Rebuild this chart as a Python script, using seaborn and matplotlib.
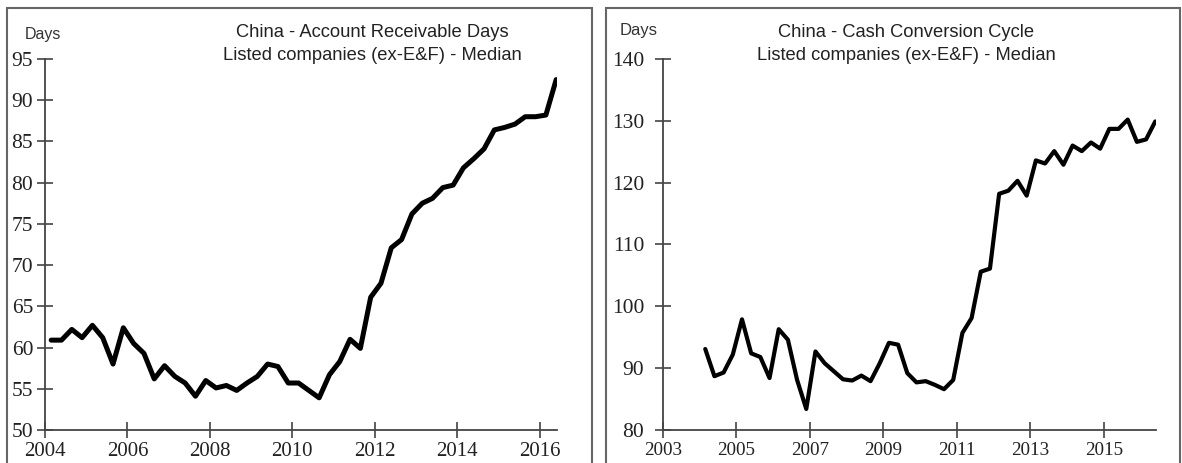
import numpy as np
import pandas as pd
import seaborn as sns
import matplotlib.pyplot as plt
from matplotlib.patches import Rectangle

# quarterly medians, 2004Q1 - 2016Q2
quarters = 2004.15 + 0.25 * np.arange(50)

ar_days = [60.9, 60.9, 62.2, 61.2, 62.7, 61.2, 58.0, 62.4, 60.5, 59.3,
           56.2, 57.8, 56.5, 55.7, 54.1, 56.0, 55.1, 55.4, 54.8, 55.7,
           56.5, 58.0, 57.7, 55.7, 55.7, 54.8, 53.9, 56.7, 58.3, 61.0,
           59.9, 66.1, 67.8, 72.1, 73.1, 76.2, 77.5, 78.1, 79.4, 79.7,
           81.8, 82.9, 84.1, 86.4, 86.7, 87.1, 88.0, 88.0, 88.2, 92.5]

ccc_days = [93.1, 88.7, 89.3, 92.2, 97.9, 92.4, 91.8, 88.4, 96.3, 94.6,
            88.1, 83.4, 92.7, 90.8, 89.5, 88.2, 88.0, 88.8, 87.9, 90.8,
            94.1, 93.8, 89.2, 87.7, 87.9, 87.3, 86.6, 88.1, 95.7, 98.1,
            105.6, 106.1, 118.2, 118.7, 120.3, 117.9, 123.6, 123.1, 125.1, 122.9,
            126.0, 125.1, 126.5, 125.5, 128.7, 128.7, 130.2, 126.6, 127.0, 129.9]

left_ticks_x = [2004, 2006, 2008, 2010, 2012, 2014, 2016]
left_ticks_y = [50, 55, 60, 65, 70, 75, 80, 85, 90, 95]
right_ticks_x = [2003, 2005, 2007, 2009, 2011, 2013, 2015]
right_ticks_y = [80, 90, 100, 110, 120, 130, 140]

df = pd.DataFrame({'date': quarters, 'ar': ar_days, 'ccc': ccc_days})

sns.set_theme(style="white")
plt.rcParams['font.family'] = ['Liberation Serif', 'DejaVu Serif']

W, H = 1182, 463
fig = plt.figure(figsize=(W / 100, H / 100), dpi=100)

# panel frames
for x0, x1 in [(7, 592), (606, 1180)]:
    fig.patches.append(Rectangle((x0 / W, -0.02), (x1 - x0) / W, 1 - 8 / H + 0.02,
                                 transform=fig.transFigure, fill=False,
                                 edgecolor='#666666', linewidth=1.5))

ax1 = fig.add_axes([45 / W, 1 - 430 / H, (557 - 45) / W, (430 - 59) / H])
ax2 = fig.add_axes([663 / W, 1 - 430 / H, (1156 - 663) / W, (430 - 59) / H])

sns.lineplot(data=df, x='date', y='ar', ax=ax1, color='black', linewidth=3.6)
sns.lineplot(data=df, x='date', y='ccc', ax=ax2, color='black', linewidth=3.0)

ax1.set_xlim(2004, 2016.42)
ax1.set_ylim(50, 95)
ax1.set_xticks(left_ticks_x)
ax1.set_yticks(left_ticks_y)
ax2.set_xlim(2003, 2016.42)
ax2.set_ylim(80, 140)
ax2.set_xticks(right_ticks_x)
ax2.set_yticks(right_ticks_y)

for ax, ysize, xsize, ypad in [(ax1, 15.5, 15, 3), (ax2, 15.5, 13.8, 8)]:
    ax.set_xlabel('')
    ax.set_ylabel('')
    ax.patch.set_alpha(0)
    for s in ['top', 'right']:
        ax.spines[s].set_visible(False)
    for s in ['left', 'bottom']:
        ax.spines[s].set_color('#444444')
        ax.spines[s].set_linewidth(1.3)
    ax.tick_params(axis='both', direction='inout', length=11, width=1.2,
                   color='#444444', colors='#222222', left=True, bottom=True)
    ax.tick_params(axis='y', labelsize=ysize, pad=ypad)
    ax.tick_params(axis='x', labelsize=xsize, pad=3)

sans = ['Liberation Sans', 'DejaVu Sans']
fig.text(25 / W, 1 - 35 / H, 'Days', family=sans, fontsize=11.5, color='#333333',
         va='center', ha='left')
fig.text(620 / W, 1 - 30 / H, 'Days', family=sans, fontsize=12, color='#333333',
         va='center', ha='left')
fig.text(372 / W, 1 - 44 / H,
         'China - Account Receivable Days\nListed companies (ex-E&F) - Median',
         family=sans, fontsize=13.2, color='#222222', ha='center', va='center',
         linespacing=1.4)
fig.text(906 / W, 1 - 44 / H,
         'China - Cash Conversion Cycle\nListed companies (ex-E&F) - Median',
         family=sans, fontsize=13.2, color='#222222', ha='center', va='center',
         linespacing=1.4)

fig.savefig('out.png', dpi=100)
